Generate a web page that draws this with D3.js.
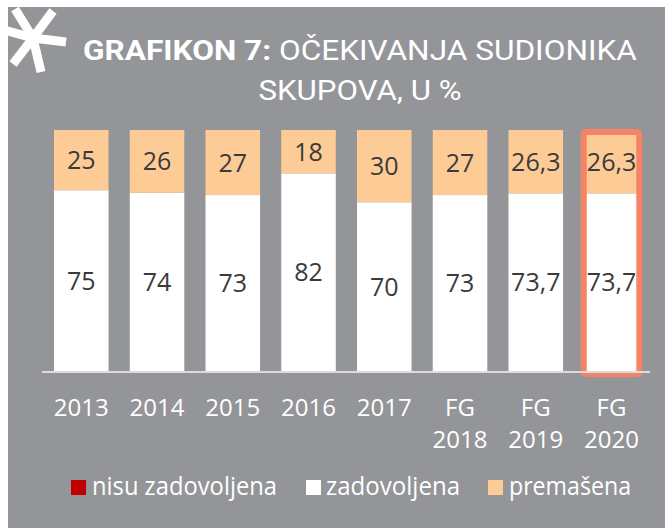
<!DOCTYPE html>
<html>
<head>
<meta charset="utf-8">
<title>Grafikon 7</title>
<script src="https://cdn.jsdelivr.net/npm/d3@7/dist/d3.min.js"></script>
<style>
  body { margin: 0; background: #fff; }
  svg { display: block; }
  .val { font-family: "Open Sans", sans-serif; font-size: 25px; fill: #3a3a3a; }
  .tick { font-family: "Open Sans", sans-serif; font-size: 24px; fill: #fff; }
  .leg { font-family: "Open Sans", sans-serif; font-size: 26px; fill: #fff; }
  .title { font-family: Roboto, sans-serif; font-size: 28px; fill: #fff; }
</style>
</head>
<body>
<script>
var categories = ["2013", "2014", "2015", "2016", "2017", "FG 2018", "FG 2019", "FG 2020"];
var nisuZadovoljena = [0, 0, 0, 0, 0, 0, 0, 0];
var zadovoljena = [75, 74, 73, 82, 70, 73, 73.7, 73.7];
var premasena = [25, 26, 27, 18, 30, 27, 26.3, 26.3];
var seriesNames = ["nisu zadovoljena", "zadovoljena", "premašena"];
var highlighted = "FG 2020";

var width = 665, height = 528;
var colors = {"nisu zadovoljena": "#c00000", "zadovoljena": "#ffffff", "premašena": "#fdcc96"};

var svg = d3.select("body").append("svg")
    .attr("width", width)
    .attr("height", height);

// grey panel
svg.append("rect")
    .attr("x", 8).attr("y", 7)
    .attr("width", width - 8).attr("height", height - 7)
    .attr("fill", "#939598");

// decorative asterisk
var star = [[-18, -29], [20, -27], [33, 4], [8, 34], [-20, 26], [-29, -8]];
svg.append("g")
    .attr("transform", "translate(33,38)")
    .selectAll("line")
    .data(star)
    .enter().append("line")
    .attr("x1", 0).attr("y1", 0)
    .attr("x2", function(d) { return d[0]; })
    .attr("y2", function(d) { return d[1]; })
    .attr("stroke", "#fff")
    .attr("stroke-width", 9);

// title
var t1 = svg.append("text").attr("class", "title")
    .attr("x", 83).attr("y", 60)
    .attr("textLength", 554).attr("lengthAdjust", "spacingAndGlyphs");
t1.append("tspan").attr("font-weight", "bold").text("GRAFIKON 7:");
t1.append("tspan").text(" OČEKIVANJA SUDIONIKA");
svg.append("text").attr("class", "title")
    .attr("x", 360).attr("y", 100)
    .attr("text-anchor", "middle")
    .attr("textLength", 203).attr("lengthAdjust", "spacingAndGlyphs")
    .text("SKUPOVA, U %");

var x = d3.scaleBand()
    .domain(categories)
    .range([43.4, 649.4])
    .paddingInner(0.28)
    .paddingOuter(0.14);

var y = d3.scaleLinear()
    .domain([0, 100])
    .range([371, 130]);

var rows = categories.map(function(c, i) {
  return {cat: c, "nisu zadovoljena": nisuZadovoljena[i], "zadovoljena": zadovoljena[i], "premašena": premasena[i]};
});

var stack = d3.stack().keys(seriesNames);
var layers = stack(rows);

var fmt = function(v) { return String(v).replace(".", ","); };

var g = svg.append("g");
layers.forEach(function(layer) {
  g.selectAll(null)
    .data(layer)
    .enter().append("rect")
    .attr("x", function(d) { return x(d.data.cat); })
    .attr("width", x.bandwidth())
    .attr("y", function(d) { return y(d[1]); })
    .attr("height", function(d) { return y(d[0]) - y(d[1]); })
    .attr("fill", colors[layer.key]);

  g.selectAll(null)
    .data(layer.filter(function(d) { return d.data[layer.key] > 0; }))
    .enter().append("text")
    .attr("class", "val")
    .attr("text-anchor", "middle")
    .attr("x", function(d) { return x(d.data.cat) + x.bandwidth() / 2; })
    .attr("y", function(d) { return (y(d[0]) + y(d[1])) / 2; })
    .attr("dy", "0.36em")
    .text(function(d) { return fmt(d.data[layer.key]); });
});

// highlight frame on last bar
svg.append("rect")
    .attr("x", x(highlighted) - 0.5)
    .attr("width", x.bandwidth() + 1)
    .attr("y", y(100) + 2)
    .attr("height", y(0) - y(100) + 1)
    .attr("rx", 2)
    .attr("fill", "none")
    .attr("stroke", "#f58466")
    .attr("stroke-width", 6);

// baseline
svg.append("line")
    .attr("x1", 42).attr("x2", 650)
    .attr("y1", 372).attr("y2", 372)
    .attr("stroke", "#dcdcdc")
    .attr("stroke-width", 2);

// category labels
var ticks = svg.append("g");
categories.forEach(function(c) {
  var parts = c.split(" ");
  var tx = ticks.append("text").attr("class", "tick")
      .attr("text-anchor", "middle")
      .attr("x", x(c) + x.bandwidth() / 2)
      .attr("y", 416);
  parts.forEach(function(p, i) {
    tx.append("tspan")
      .attr("x", x(c) + x.bandwidth() / 2)
      .attr("dy", i === 0 ? 0 : 32)
      .text(p);
  });
});

// legend
var legendPos = [{sq: 71, tx: 92, w: 185}, {sq: 306, tx: 326, w: 134}, {sq: 488, tx: 509, w: 122}];
var legend = svg.append("g");
seriesNames.forEach(function(name, i) {
  legend.append("rect")
    .attr("x", legendPos[i].sq).attr("y", 480)
    .attr("width", 15).attr("height", 15)
    .attr("fill", colors[name]);
  legend.append("text").attr("class", "leg")
    .attr("x", legendPos[i].tx).attr("y", 495)
    .attr("textLength", legendPos[i].w).attr("lengthAdjust", "spacingAndGlyphs")
    .text(name);
});
</script>
</body>
</html>
